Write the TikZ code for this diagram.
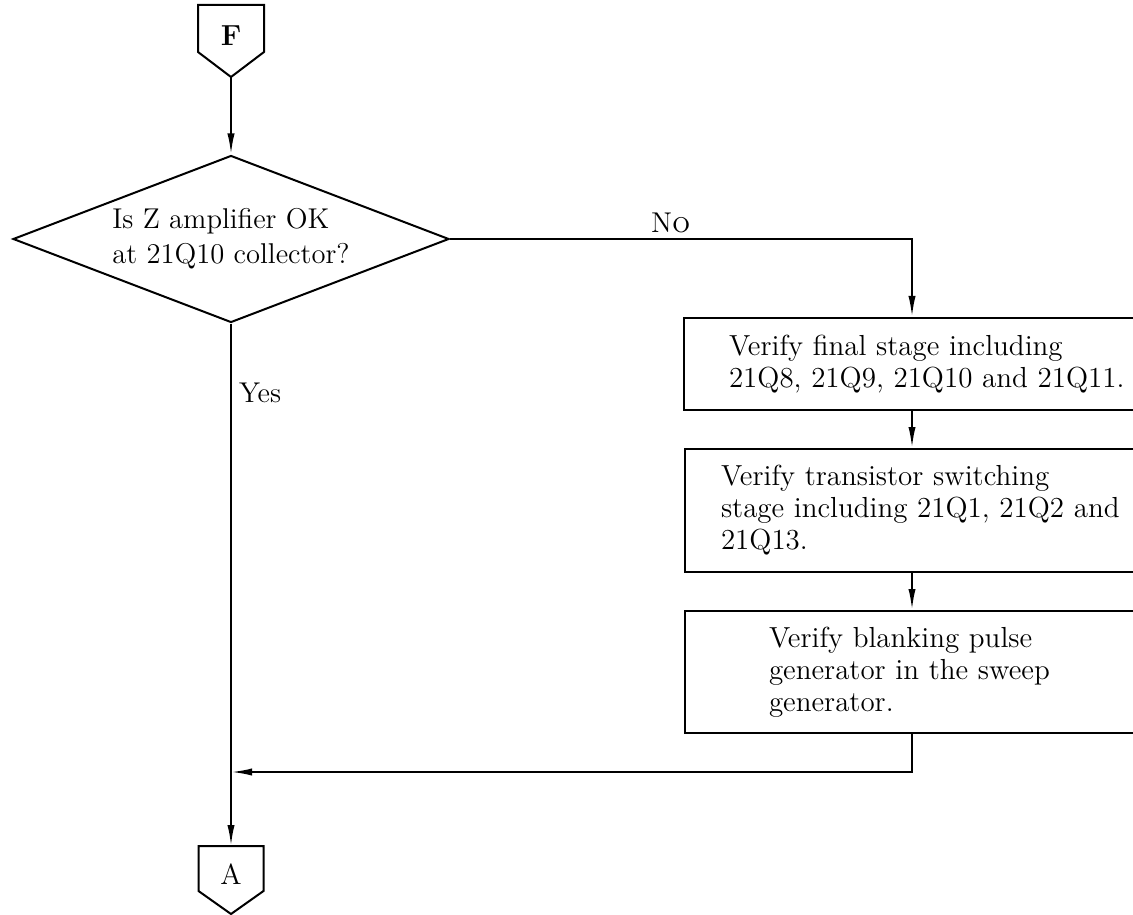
\documentclass[tikz,border=0pt]{standalone}
\usetikzlibrary{shapes.geometric,arrows.meta,calc}
\begin{document}
\begin{tikzpicture}[x=0.5pt,y=-0.5pt,
  line width=1pt,
  arr/.style={-{Latex[length=10.5pt,width=3.6pt]}},
  conn/.style={inner sep=0pt, minimum width=32pt, text depth=5.5pt, font=\fontsize{14.5}{16}\selectfont},
  dec/.style={draw, diamond, aspect=2.6, inner sep=0pt, minimum width=218pt, minimum height=83.5pt, align=left, font=\fontsize{14.3}{17.5}\selectfont},
  stepbox/.style={draw, rectangle, anchor=north west, inner ysep=0pt, align=left, font=\fontsize{14.5}{16}\selectfont},
  lbl/.style={inner sep=0pt, anchor=base west, font=\fontsize{14.3}{16}\selectfont}]
\useasboundingbox (0,0) rectangle (1133,914);
\clip (0,0) rectangle (1133,914);
\fill[white] (0,0) rectangle (1133,914);

% connectors F and A
\node[conn, minimum height=35pt] (F) at (231,41) {\textbf{F}};
\draw (F.north west) -- (F.north east) -- ($(F.south east)+(0,-25)$) -- (F.south) -- ($(F.south west)+(0,-25)$) -- cycle;

\node[conn, minimum height=33pt, minimum width=31.5pt] (A) at (231,880) {A};
\draw (A.north west) -- (A.north east) -- ($(A.south east)+(0,-23)$) -- (A.south) -- ($(A.south west)+(0,-23)$) -- cycle;

% decision
\node[dec] (D) at (231,239) {Is Z amplifier OK\\at 21Q10 collector?};

% boxes
\node[stepbox, minimum height=46pt, inner xsep=22.5pt, text width=200pt] (B1) at (683,317)
  {Verify final stage including\\21Q8, 21Q9, 21Q10 and 21Q11.};
\node[stepbox, minimum height=61.5pt, inner xsep=18pt, text width=200pt] (B2) at (684,448)
  {Verify transistor switching\\stage including 21Q1, 21Q2 and\\21Q13.};
\node[stepbox, minimum height=61pt, inner xsep=42pt, text width=180pt] (B3) at (684,610)
  {Verify blanking pulse\\generator in the sweep\\generator.};

\coordinate (nx) at (912,0);
\coordinate (mj) at (0,772);

% labels
\node[lbl] (no) at (650,233) {N\textsc{o}};
\node[lbl] (yes) at (238,402) {Yes};

% connectors
\draw[arr] (F.south) -- (D.north);
\draw[arr] (D.east) -| (nx |- B1.north);
\draw[arr] (nx |- B1.south) -- (nx |- B2.north);
\draw[arr] (nx |- B2.south) -- (nx |- B3.north);
\draw[arr] (nx |- B3.south) |- (D.south |- mj);
\draw[arr] (D.south) -- (A.north);
\end{tikzpicture}
\end{document}
